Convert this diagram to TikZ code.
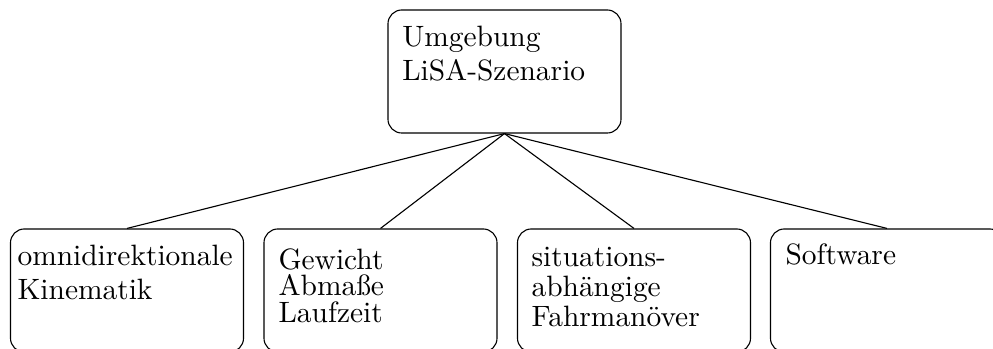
\documentclass[tikz,border=0pt]{standalone}
\begin{document}
\begin{tikzpicture}[x=0.36pt, y=-0.36pt,
  box/.style={draw, rounded corners=5pt, inner sep=0pt,
    minimum width=83.9pt, minimum height=44.3pt},
  label/.style={anchor=north west, inner sep=0pt, align=left,
    font=\fontsize{10.6}{12.2}\selectfont},
  link/.style={line width=0.4pt}]
  \useasboundingbox (0,0) rectangle (993,349);
  \clip (0,0) rectangle (993,349);

  % top-level box
  \node[box] (env) at (504.5,71.5) {};
  \node[label] (envtxt) at (401.7,25.6) {Umgebung\\LiSA-Szenario};

  % second-level boxes
  \node[box] (kin) at (127,290.5) {};
  \node[box] (gew) at (380.5,290.5) {};
  \node[box] (fahr) at (634,290.5) {};
  \node[box] (soft) at (887,290.5) {};

  \node[label] (kintxt) at (17,244.5) {omnidirektionale\\Kinematik};
  \node[label] (gewtxt) at (278,248) {Gewicht\\[-2.6pt]Abma\ss e\\[-2.6pt]Laufzeit};
  \node[label] (fahrtxt) at (531,246.5) {situations-\\[-1.3pt]abh\"angige\\[-1.3pt]Fahrman\"over};
  \node[label] (softtxt) at (785,243.5) {Software};

  % connectors
  \foreach \t in {kin,gew,fahr,soft}
    \draw[link] (env.south) -- (\t.north);
\end{tikzpicture}
\end{document}
